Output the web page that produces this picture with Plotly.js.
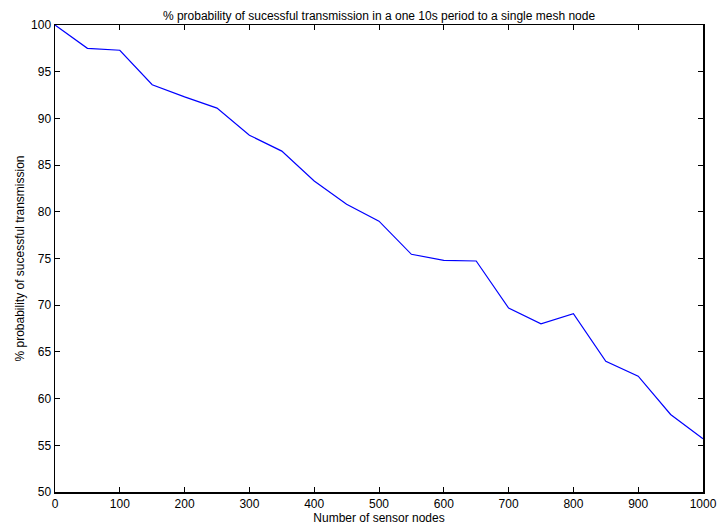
<!DOCTYPE html>
<html>
<head>
<meta charset="utf-8">
<script src="https://cdn.plot.ly/plotly-3.0.1.min.js"></script>
<style>
  html, body { margin: 0; padding: 0; background: #fff; }
  #chart { width: 719px; height: 526px; }
</style>
</head>
<body>
<div id="chart"></div>
<script>
// Number of sensor nodes sharing a single mesh node
const sensorNodes = [0, 50, 100, 150, 200, 250, 300, 350, 400, 450, 500,
                     550, 600, 650, 700, 750, 800, 850, 900, 950, 1000];
// % probability of a successful transmission within one 10 s period
const successPct = [100, 97.5, 97.3, 93.6, 92.3, 91.1, 88.2, 86.5, 83.3, 80.8, 79.0,
                    75.45, 74.8, 74.73, 69.7, 68.0, 69.1, 64.0, 62.4, 58.3, 55.7];
const xTicks = [0, 100, 200, 300, 400, 500, 600, 700, 800, 900, 1000];
const yTicks = [50, 55, 60, 65, 70, 75, 80, 85, 90, 95, 100];

const font = { family: 'Liberation Sans, Arial, sans-serif', size: 12, color: '#000' };

const axisCommon = {
  showgrid: false,
  zeroline: false,
  showline: true,
  linecolor: '#000',
  linewidth: 1.5,
  mirror: 'ticks',
  ticks: 'inside',
  ticklen: 5,
  tickwidth: 1,
  tickcolor: '#000',
  tickfont: font
};

Plotly.newPlot('chart', [{
  x: sensorNodes,
  y: successPct,
  type: 'scatter',
  mode: 'lines',
  line: { color: '#0000ff', width: 1.2 },
  hoverinfo: 'x+y'
}], {
  width: 719,
  height: 526,
  margin: { l: 55, r: 16, t: 25, b: 34 },
  paper_bgcolor: '#fff',
  plot_bgcolor: '#fff',
  showlegend: false,
  font: font,
  title: {
    text: '% probability of sucessful transmission in a one 10s period to a single mesh node',
    font: font,
    x: 0.5, xref: 'paper',
    y: 1, yref: 'paper', yanchor: 'bottom', pad: { b: 5 }
  },
  xaxis: Object.assign({}, axisCommon, {
    range: [0, 1000],
    tickvals: xTicks,
    ticktext: xTicks.map(String),
    title: { text: 'Number of sensor nodes', font: font, standoff: 1 }
  }),
  yaxis: Object.assign({}, axisCommon, {
    range: [50, 100],
    tickvals: yTicks,
    ticktext: yTicks.map(String),
    ticklabelstandoff: 0,
    title: { text: '% probability of sucessful transmission', font: font, standoff: 4 }
  })
}, { displayModeBar: false, staticPlot: true });
</script>
</body>
</html>
